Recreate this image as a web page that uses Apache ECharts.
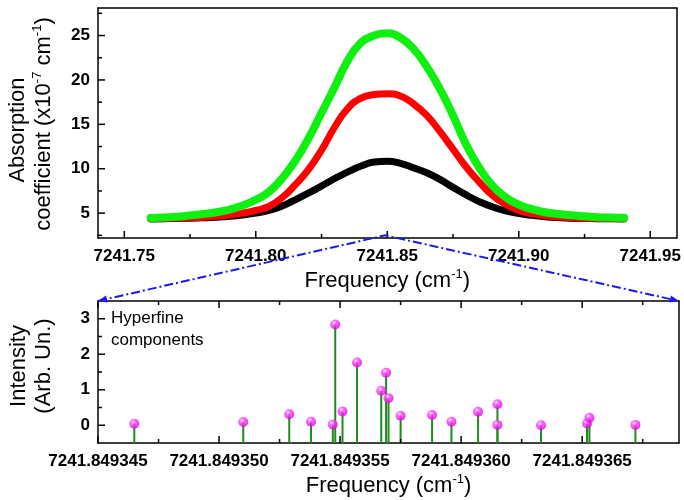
<!DOCTYPE html>
<html>
<head>
<meta charset="utf-8">
<script src="https://cdn.jsdelivr.net/npm/echarts@6/dist/echarts.min.js"></script>
<style>
html, body { margin: 0; padding: 0; background: #fff; }
#chart { width: 684px; height: 500px; }
</style>
</head>
<body>
<div id="chart"></div>
<script>
// line profiles, frequency in cm-1, absorption in 1e-7 cm-1
const freq = [7241.760, 7241.765, 7241.770, 7241.775, 7241.780, 7241.785, 7241.790, 7241.795, 7241.800,
    7241.805, 7241.810, 7241.815, 7241.820, 7241.825, 7241.830, 7241.835, 7241.840, 7241.845, 7241.850,
    7241.855, 7241.860, 7241.865, 7241.870, 7241.875, 7241.880, 7241.885, 7241.890, 7241.895, 7241.900,
    7241.905, 7241.910, 7241.915, 7241.920, 7241.925, 7241.930, 7241.935, 7241.940];
const absBlack = [4.35, 4.37, 4.4, 4.43, 4.48, 4.55, 4.65, 4.8, 5.0, 5.3, 5.8, 6.5, 7.25, 8.05, 8.9, 9.65, 10.3, 10.75, 10.85,
    10.6, 10.1, 9.55, 8.8, 7.9, 7.05, 6.3, 5.7, 5.25, 4.95, 4.75, 4.6, 4.5, 4.43, 4.4, 4.38, 4.36, 4.35];
const absRed = [4.4, 4.42, 4.45, 4.5, 4.55, 4.65, 4.8, 5.0, 5.3, 5.75, 6.75, 8.2, 9.9, 12.1, 14.7, 16.8, 17.95, 18.35, 18.45,
    18.2, 17.3, 16.0, 14.2, 12.2, 10.2, 8.5, 7.0, 6.0, 5.3, 4.95, 4.7, 4.55, 4.48, 4.43, 4.42, 4.41, 4.4];
const absGreen = [4.45, 4.5, 4.6, 4.75, 4.9, 5.1, 5.4, 5.85, 6.5, 7.4, 8.9, 10.9, 13.4, 16.3, 19.2, 22.2, 24.2, 25.0, 25.25,
    24.75, 23.5, 21.5, 19.0, 16.0, 12.7, 10.1, 8.1, 6.8, 5.95, 5.45, 5.1, 4.9, 4.75, 4.65, 4.55, 4.5, 4.47];

// hyperfine components
const hfFreq = [7241.8493465, 7241.8493510, 7241.8493529, 7241.8493538, 7241.8493547, 7241.8493548, 7241.8493551,
    7241.8493557, 7241.8493567, 7241.8493569, 7241.8493570, 7241.8493575, 7241.8493588, 7241.8493596,
    7241.8493607, 7241.8493615, 7241.8493615, 7241.8493633, 7241.8493652, 7241.8493653, 7241.8493672];
const hfInt = [0.04, 0.09, 0.31, 0.10, 0.02, 2.84, 0.39, 1.77, 0.97, 1.48, 0.76, 0.27, 0.29, 0.10, 0.38, 0.59,
    0.01, 0.00, 0.05, 0.21, 0.01];

// ticks
const topXTicks = [7241.75, 7241.80, 7241.85, 7241.90, 7241.95];
const topXMinor = [7241.775, 7241.825, 7241.875, 7241.925];
const topYTicks = [5, 10, 15, 20, 25];
const topYMinor = [2.5, 7.5, 12.5, 17.5, 22.5, 27.5];
const botXTicks = [7241.849345, 7241.849350, 7241.849355, 7241.849360, 7241.849365];
const botXMinor = [7241.8493475, 7241.8493525, 7241.8493575, 7241.8493625, 7241.8493675];
const botYTicks = [0, 1, 2, 3];
const botYMinor = [0.5, 1.5, 2.5];

const FONT = 'Liberation Sans';
const tickFont = { fontFamily: FONT, fontWeight: 'bold', fontSize: 17, color: '#000' };
const supRich = {
    sup: { fontFamily: FONT, fontSize: 13, verticalAlign: 'top', lineHeight: 13, color: '#000' }
};
const nameStyle = { fontFamily: FONT, fontSize: 22, color: '#000', lineHeight: 26, rich: supRich };

const topXMin = 7241.74, topXMax = 7241.96, topYMin = 2.2, topYMax = 28.1;
const botXMin = 7241.849345, botXMax = 7241.849369, botYMin = -0.5, botYMax = 3.5;

// frame side: axis line, labels only when asked
function frameAxis(grid, pos, min, max, labels, extra) {
    return Object.assign({
        gridIndex: grid, type: 'value', position: pos, min: min, max: max,
        axisLine: { show: true, onZero: false, lineStyle: { color: '#000', width: 1.5 } },
        splitLine: { show: false },
        axisTick: { show: false },
        axisLabel: labels ? Object.assign({ customValues: labels.values, margin: 9 }, tickFont, labels.opt) : { show: false },
    }, extra || {});
}

let chart = echarts.init(document.getElementById('chart'));

let option = {
    animation: false,
    grid: [
        { left: 98, top: 8, width: 581, height: 230 },
        { left: 98, top: 301, width: 581, height: 143 },
    ],
    xAxis: [
        frameAxis(0, 'bottom', topXMin, topXMax, { values: topXTicks, opt: { formatter: v => v.toFixed(2), margin: 10 } }, {
            name: 'Frequency (cm{sup|-1})', nameLocation: 'middle', nameGap: 30, nameTextStyle: nameStyle,
        }),
        frameAxis(0, 'top', topXMin, topXMax, null),
        frameAxis(1, 'bottom', botXMin, botXMax, { values: botXTicks, opt: { formatter: v => v.toFixed(6), margin: 10 } }, {
            name: 'Frequency (cm{sup|-1})', nameLocation: 'middle', nameGap: 30, nameTextStyle: nameStyle,
        }),
        frameAxis(1, 'top', botXMin, botXMax, null),
    ],
    yAxis: [
        frameAxis(0, 'left', topYMin, topYMax, { values: topYTicks, opt: { margin: 8 } }),
        frameAxis(0, 'right', topYMin, topYMax, null),
        frameAxis(1, 'left', botYMin, botYMax, { values: botYTicks, opt: { margin: 8 } }),
        frameAxis(1, 'right', botYMin, botYMax, null),
    ],
    series: [
        {
            type: 'line', xAxisIndex: 0, yAxisIndex: 0, smooth: true, showSymbol: false,
            data: freq.map((f, i) => [f, absBlack[i]]),
            lineStyle: { color: '#000000', width: 7, cap: 'round' },
        },
        {
            type: 'line', xAxisIndex: 0, yAxisIndex: 0, smooth: true, showSymbol: false,
            data: freq.map((f, i) => [f, absRed[i]]),
            lineStyle: { color: '#ff0000', width: 7, cap: 'round' },
        },
        {
            type: 'line', xAxisIndex: 0, yAxisIndex: 0, smooth: true, showSymbol: false,
            data: freq.map((f, i) => [f, absGreen[i]]),
            lineStyle: { color: '#10f010', width: 8, cap: 'round' },
        },
        {
            // stems from the bottom of the frame
            type: 'custom', xAxisIndex: 2, yAxisIndex: 2,
            data: hfFreq.map((f, i) => [f, hfInt[i]]),
            encode: { x: 0, y: 1 },
            renderItem: function (params, api) {
                let x = api.value(0);
                let p0 = api.coord([x, botYMin]);
                let p1 = api.coord([x, api.value(1)]);
                return {
                    type: 'line',
                    shape: { x1: p0[0], y1: p0[1], x2: p1[0], y2: p1[1] },
                    style: { stroke: '#1e8c1e', lineWidth: 2 },
                };
            },
        },
        {
            type: 'scatter', xAxisIndex: 2, yAxisIndex: 2, symbol: 'circle', symbolSize: 10,
            data: hfFreq.map((f, i) => [f, hfInt[i]]),
            itemStyle: {
                color: {
                    type: 'radial', x: 0.38, y: 0.32, r: 0.7,
                    colorStops: [
                        { offset: 0, color: '#ffe6ff' },
                        { offset: 0.35, color: '#ff40ff' },
                        { offset: 1, color: '#e000e0' },
                    ],
                },
            },
        },
    ],
};
chart.setOption(option);

// inward tick marks, placed through the axes' own conversion
function tickMarks(axisIdx, dim, edge, values, len, sign) {
    let finder = { xAxisIndex: axisIdx, yAxisIndex: axisIdx };
    return values.map(v => {
        let p = chart.convertToPixel(finder, dim === 'x' ? [v, edge] : [edge, v]);
        let q = dim === 'x' ? [p[0], p[1] + sign * len] : [p[0] + sign * len, p[1]];
        return {
            type: 'line', z: 50, silent: true,
            shape: { x1: p[0], y1: p[1], x2: q[0], y2: q[1] },
            style: { stroke: '#000', lineWidth: 1.5 },
        };
    });
}

let ticks = [].concat(
    tickMarks(0, 'x', topYMin, topXTicks, 7, -1),
    tickMarks(0, 'x', topYMin, topXMinor, 4, -1),
    tickMarks(0, 'y', topXMin, topYTicks, 7, 1),
    tickMarks(0, 'y', topXMin, topYMinor, 4, 1),
    tickMarks(2, 'x', botYMin, botXTicks, 7, -1),
    tickMarks(2, 'x', botYMin, botXMinor, 4, -1),
    tickMarks(2, 'x', botYMax, botXTicks, 7, 1),
    tickMarks(2, 'x', botYMax, botXMinor, 4, 1),
    tickMarks(2, 'y', botXMin, botYTicks, 7, 1),
    tickMarks(2, 'y', botXMin, botYMinor, 4, 1)
);

// zoom marker: dash-dot lines from the line centre to the corners of the lower frame
let apex = chart.convertToPixel({ xAxisIndex: 0, yAxisIndex: 0 }, [7241.8492, 2.5]);
let leftEnd = chart.convertToPixel({ xAxisIndex: 2, yAxisIndex: 2 }, [botXMin, botYMax]);
let rightEnd = chart.convertToPixel({ xAxisIndex: 2, yAxisIndex: 2 }, [botXMax, botYMax]);

function arrow(from, to) {
    let dx = to[0] - from[0], dy = to[1] - from[1];
    let len = Math.sqrt(dx * dx + dy * dy);
    let ux = dx / len, uy = dy / len;
    let bx = to[0] - ux * 9, by = to[1] - uy * 9;
    return {
        type: 'polygon',
        shape: { points: [[to[0], to[1]], [bx - uy * 3.5, by + ux * 3.5], [bx + uy * 3.5, by - ux * 3.5]] },
        style: { fill: '#1a1aee' },
        z: 100,
    };
}

const blue = { stroke: '#1a1aee', lineWidth: 2, lineDash: [9, 3, 2, 3], fill: null };

chart.setOption({
    graphic: ticks.concat([
        { type: 'polyline', shape: { points: [leftEnd, apex, rightEnd] }, style: blue, z: 100 },
        arrow(apex, leftEnd),
        arrow(apex, rightEnd),
        {
            type: 'text', x: 18, y: 130, rotation: Math.PI / 2,
            style: { text: 'Absorption', fontFamily: FONT, fontSize: 22, fill: '#000', align: 'center', verticalAlign: 'middle' },
        },
        {
            type: 'text', x: 44, y: 124, rotation: Math.PI / 2,
            style: {
                text: 'coefficient (x10{sup|-7} cm{sup|-1})', fontFamily: FONT, fontSize: 22, lineHeight: 26,
                fill: '#000', align: 'center', verticalAlign: 'middle', rich: supRich,
            },
        },
        {
            type: 'text', x: 19, y: 366, rotation: Math.PI / 2,
            style: { text: 'Intensity', fontFamily: FONT, fontSize: 22, fill: '#000', align: 'center', verticalAlign: 'middle' },
        },
        {
            type: 'text', x: 44, y: 366, rotation: Math.PI / 2,
            style: { text: '(Arb. Un.)', fontFamily: FONT, fontSize: 22, fill: '#000', align: 'center', verticalAlign: 'middle' },
        },
        {
            type: 'text', x: 111, y: 307,
            style: { text: 'Hyperfine\ncomponents', fontFamily: FONT, fontSize: 17, lineHeight: 22, fill: '#000', align: 'left', verticalAlign: 'top' },
        },
    ]),
});
</script>
</body>
</html>
